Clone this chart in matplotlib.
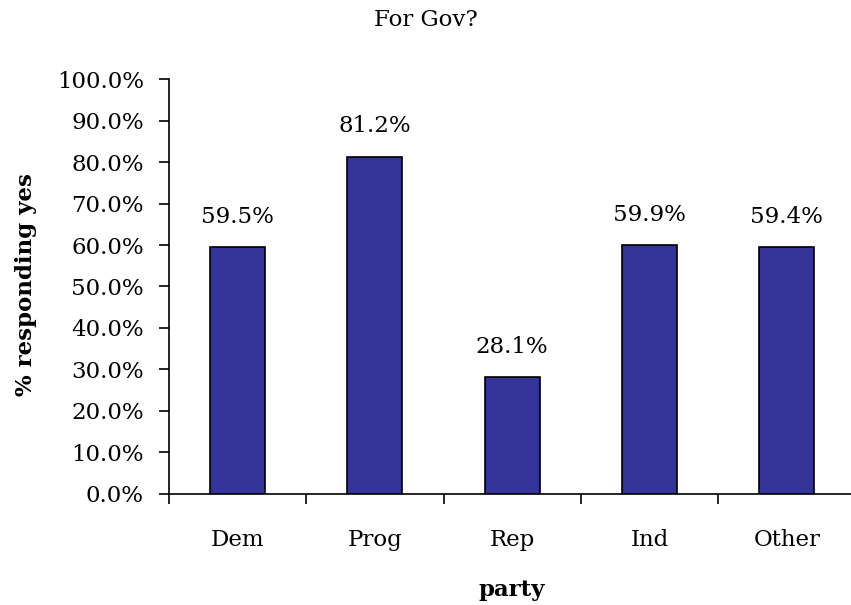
import matplotlib
matplotlib.use("Agg")
import matplotlib.pyplot as plt
from matplotlib.ticker import FixedLocator, NullFormatter
from matplotlib.transforms import blended_transform_factory

categories = ["Dem", "Prog", "Rep", "Ind", "Other"]
values = [59.5, 81.2, 28.1, 59.9, 59.4]
yticks = [0, 10, 20, 30, 40, 50, 60, 70, 80, 90, 100]

plt.rcParams["font.family"] = ["DejaVu Serif", "Liberation Serif"]
FS = 16.5

fig = plt.figure(figsize=(8.51, 6.05), dpi=100)
ax = fig.add_axes([0.1985, 0.1835, 0.8067, 0.6859])

x = list(range(len(categories)))
ax.bar(x, values, width=0.4, color="#333399", edgecolor="black", linewidth=1.2, zorder=3)

for xi, v in zip(x, values):
    ax.annotate(f"{v:.1f}%", (xi, v), xytext=(0, 22), textcoords="offset points",
                ha="center", va="center", fontsize=FS)

ax.set_xlim(-0.5, len(categories) - 0.5)
ax.set_ylim(0, 100)
ax.set_yticks(yticks)
ax.set_yticklabels([f"{t:.1f}%" for t in yticks], fontsize=FS)

# category names sit between the tick marks, which mark the category boundaries
ax.set_xticks(x)
ax.set_xticklabels(categories, fontsize=FS)
ax.tick_params(axis="x", which="major", length=0, pad=25)
ax.xaxis.set_minor_locator(FixedLocator([i - 0.5 for i in range(len(categories) + 1)]))
ax.xaxis.set_minor_formatter(NullFormatter())
ax.tick_params(axis="x", which="minor", length=7, width=1.2, direction="out")
ax.tick_params(axis="y", length=7, width=1.2, direction="out", pad=11)

for side in ("top", "right"):
    ax.spines[side].set_visible(False)
for side in ("left", "bottom"):
    ax.spines[side].set_linewidth(1.2)

fig.text(0.5, 0.967, "For Gov?", ha="center", va="center", fontsize=FS)
# x-axis title centred under the plot area, placed in figure height
xlabel_tf = blended_transform_factory(ax.transAxes, fig.transFigure)
ax.text(0.5, 0.025, "party", transform=xlabel_tf,
        ha="center", va="center", fontsize=FS, fontweight="bold")
fig.text(0.030, 0.529, "% responding yes", ha="center", va="center", rotation=90,
         fontsize=FS, fontweight="bold")

fig.savefig("out.png", dpi=100)
